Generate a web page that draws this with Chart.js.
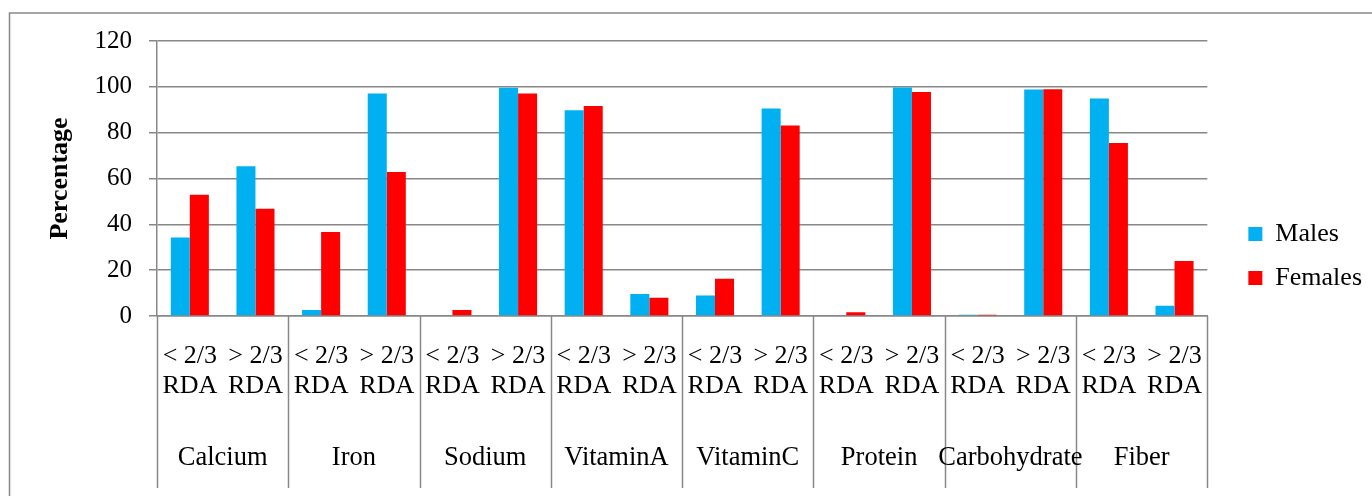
<!DOCTYPE html>
<html>
<head>
<meta charset="utf-8">
<script src="https://cdn.jsdelivr.net/npm/chart.js@4"></script>
<style>
  html, body { margin: 0; padding: 0; background: #fff; }
  canvas { display: block; }
</style>
</head>
<body>
<canvas id="rdaChart" width="1372" height="496"></canvas>
<script>
const nutrients = ['Calcium', 'Iron', 'Sodium', 'VitaminA', 'VitaminC', 'Protein', 'Carbohydrate', 'Fiber']
const levels = [['< 2/3', 'RDA'], ['> 2/3', 'RDA']]
const males = [34.3, 65.3, 2.6, 97.1, 0, 99.6, 89.8, 9.6, 8.9, 90.5, 0, 99.7, 0.6, 98.8, 94.9, 4.5]
const females = [52.9, 46.8, 36.7, 62.8, 2.6, 97.1, 91.6, 8.0, 16.3, 83.1, 1.6, 97.8, 0.6, 99.0, 75.5, 24.0]
const yTicks = [0, 20, 40, 60, 80, 100, 120]

const labels = []
nutrients.forEach(() => levels.forEach(l => labels.push(l)))

const gridGray = '#888888'
const serif = 'Liberation Serif'

// group names under the sub labels, plus the separators and the outer frame
const groupPlugin = {
    id: 'groups',
    beforeDraw(chart) {
        const ctx = chart.ctx
        ctx.save()
        ctx.strokeStyle = gridGray
        ctx.lineWidth = 1.5
        ctx.beginPath()
        ctx.moveTo(9.5, 600)
        ctx.lineTo(9.5, 13)
        ctx.lineTo(1400, 13)
        ctx.stroke()
        ctx.restore()
    },
    afterDraw(chart) {
        const ctx = chart.ctx
        const x = chart.scales.x
        const area = chart.chartArea
        const half = (x.getPixelForValue(1) - x.getPixelForValue(0)) / 2
        ctx.save()
        ctx.strokeStyle = gridGray
        ctx.lineWidth = 1.5
        for (let b = 0; b <= nutrients.length; b++) {
            const px = b === nutrients.length ? area.right : x.getPixelForValue(b * 2) - half
            ctx.beginPath()
            ctx.moveTo(Math.round(px) + 0.5, area.bottom)
            ctx.lineTo(Math.round(px) + 0.5, 488)
            ctx.stroke()
        }
        ctx.fillStyle = '#000'
        ctx.font = '26.5px "' + serif + '"'
        ctx.textAlign = 'center'
        ctx.textBaseline = 'middle'
        nutrients.forEach((n, g) => {
            const cx = (x.getPixelForValue(g * 2) + x.getPixelForValue(g * 2 + 1)) / 2
            ctx.fillText(n, cx, 458)
        })
        ctx.restore()
    }
}

const data = {
    labels: labels,
    datasets: [
        {
            label: 'Males',
            data: males,
            backgroundColor: '#00B0F0',
            borderWidth: 0
        },
        {
            label: 'Females',
            data: females,
            backgroundColor: '#FF0000',
            borderWidth: 0
        }
    ]
}

const config = {
    type: 'bar',
    data: data,
    options: {
        responsive: false,
        animation: false,
        devicePixelRatio: 1,
        color: '#000',
        categoryPercentage: 0.58,
        barPercentage: 1.0,
        layout: { padding: { top: 41, bottom: 25, left: 0, right: 0 } },
        plugins: {
            tooltip: { enabled: false },
            legend: {
                position: 'right',
                labels: {
                    boxWidth: 14,
                    boxHeight: 14,
                    padding: 18,
                    color: '#000',
                    font: { family: serif, size: 26 }
                }
            }
        },
        scales: {
            x: {
                grid: { display: false, drawTicks: false },
                border: { display: true, color: gridGray, width: 1.5 },
                ticks: {
                    color: '#000',
                    font: { family: serif, size: 26, lineHeight: 1.15 },
                    padding: 25,
                    maxRotation: 0,
                    autoSkip: false
                },
                afterFit: s => { s.height = 155 }
            },
            y: {
                min: 0,
                max: 120,
                afterBuildTicks: s => { s.ticks = yTicks.map(v => ({ value: v })) },
                grid: { color: gridGray, lineWidth: 1.5, tickLength: 8 },
                border: { display: true, color: gridGray, width: 1.5 },
                ticks: {
                    color: '#000',
                    font: { family: serif, size: 25 },
                    padding: 17
                },
                title: {
                    display: true,
                    text: 'Percentage',
                    color: '#000',
                    font: { family: serif, size: 26, weight: 'bold', lineHeight: 1.2 },
                    padding: { top: 45, bottom: 0 }
                },
                afterFit: s => { s.width = 157 }
            },
            gap: {
                position: 'right',
                display: true,
                grid: { display: false, drawTicks: false },
                border: { display: false },
                ticks: { display: false },
                afterFit: s => { s.width = 23 }
            }
        }
    },
    plugins: [groupPlugin]
}

const rdaChart = new Chart(document.getElementById('rdaChart'), config)
</script>
</body>
</html>
